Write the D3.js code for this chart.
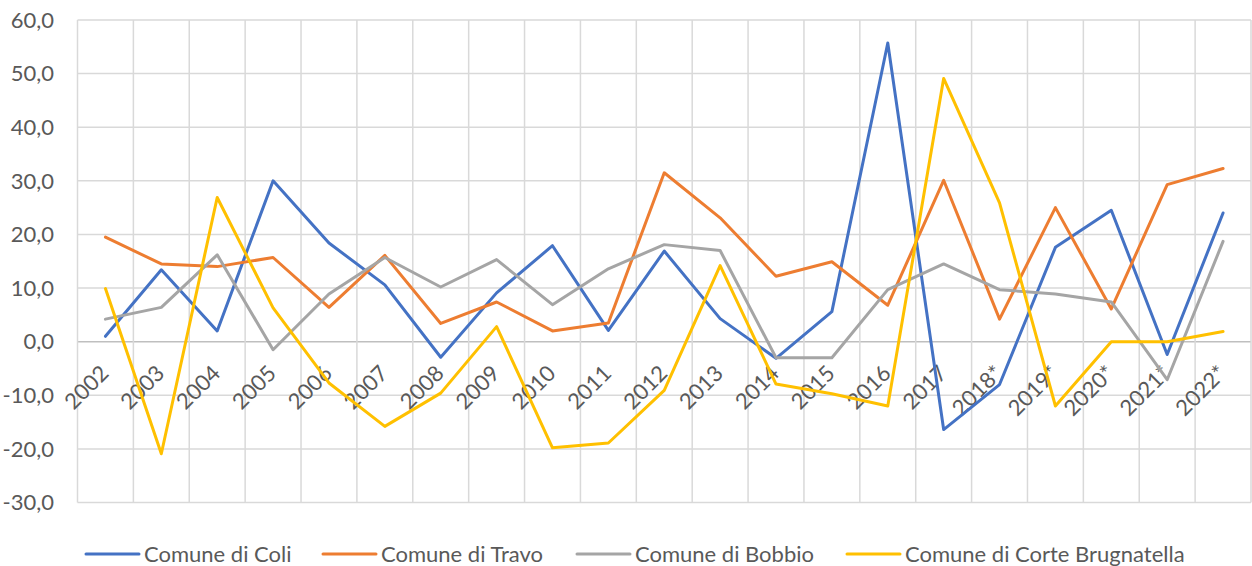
<!DOCTYPE html>
<html>
<head>
<meta charset="utf-8">
<script src="https://cdn.jsdelivr.net/npm/d3@7"></script>
<style>
  body { margin: 0; background: #fff; }
  text { font-family: Lato, "Open Sans", sans-serif; fill: #595959; }
</style>
</head>
<body>
<div id="chart"></div>
<script>
// data
const YEARS = ["2002", "2003", "2004", "2005", "2006", "2007", "2008", "2009", "2010", "2011",
  "2012", "2013", "2014", "2015", "2016", "2017", "2018*", "2019*", "2020*", "2021*", "2022*"];
const COLI = [1.0, 13.4, 2.0, 30.0, 18.4, 10.6, -2.9, 9.1, 17.9, 2.1, 16.9, 4.3, -3.1, 5.6, 55.7, -16.4, -8.0, 17.6, 24.5, -2.4, 24.0];
const TRAVO = [19.5, 14.5, 14.0, 15.7, 6.4, 16.1, 3.4, 7.4, 2.0, 3.5, 31.5, 23.1, 12.2, 14.9, 6.8, 30.1, 4.2, 25.0, 6.1, 29.3, 32.3];
const BOBBIO = [4.2, 6.4, 16.2, -1.5, 8.9, 15.7, 10.2, 15.3, 6.9, 13.6, 18.1, 17.0, -3.0, -3.0, 9.7, 14.5, 9.7, 8.9, 7.4, -7.1, 18.7];
const CORTE = [9.9, -20.9, 26.9, 6.3, -7.7, -15.8, -9.6, 2.8, -19.8, -18.9, -9.1, 14.2, -7.9, -9.7, -12.0, 49.1, 25.9, -12.0, 0.0, 0.0, 1.9];
const SERIES_NAMES = ["Comune di Coli", "Comune di Travo", "Comune di Bobbio", "Comune di Corte Brugnatella"];
const SERIES_COLORS = ["#4472C4", "#ED7D31", "#A5A5A5", "#FFC000"];
const Y_TICKS = [-30, -20, -10, 0, 10, 20, 30, 40, 50, 60];

const FRAME_WIDTH = 1252;
const FRAME_HEIGHT = 566;
const PLOT = {left: 77.5, right: 1251, top: 20, bottom: 502.5};
const FONT_SIZE = "22px";

const series = [COLI, TRAVO, BOBBIO, CORTE].map((vals, i) => ({
  name: SERIES_NAMES[i], color: SERIES_COLORS[i], values: vals
}));

const FRAME = d3.select("#chart")
  .append("svg")
  .attr("width", FRAME_WIDTH)
  .attr("height", FRAME_HEIGHT);

const X_SCALE = d3.scaleBand()
  .domain(YEARS)
  .range([PLOT.left, PLOT.right])
  .padding(0);

const Y_SCALE = d3.scaleLinear()
  .domain([-30, 60])
  .range([PLOT.bottom, PLOT.top]);

const fmt = (v) => d3.format(".1f")(v).replace(".", ",").replace("−", "-");

// horizontal gridlines
FRAME.append("g")
  .selectAll("line")
  .data(Y_TICKS)
  .enter()
  .append("line")
  .attr("x1", PLOT.left)
  .attr("x2", PLOT.right)
  .attr("y1", d => Y_SCALE(d))
  .attr("y2", d => Y_SCALE(d))
  .attr("stroke", d => d === 0 ? "#BFBFBF" : "#D9D9D9")
  .attr("stroke-width", 1.5);

// vertical gridlines at category boundaries
const bounds = YEARS.map(d => X_SCALE(d)).concat([X_SCALE(YEARS[YEARS.length - 1]) + X_SCALE.bandwidth()]);
FRAME.append("g")
  .selectAll("line")
  .data(bounds)
  .enter()
  .append("line")
  .attr("x1", d => d)
  .attr("x2", d => d)
  .attr("y1", PLOT.top)
  .attr("y2", PLOT.bottom)
  .attr("stroke", "#D9D9D9")
  .attr("stroke-width", 1.5);

// y axis labels
FRAME.append("g")
  .selectAll("text")
  .data(Y_TICKS)
  .enter()
  .append("text")
  .attr("x", 54)
  .attr("y", d => Y_SCALE(d))
  .attr("dy", "0.35em")
  .attr("text-anchor", "end")
  .attr("font-size", FONT_SIZE)
  .text(d => fmt(d));

// x axis labels, rotated
FRAME.append("g")
  .selectAll("text")
  .data(YEARS)
  .enter()
  .append("text")
  .attr("text-anchor", "end")
  .attr("font-size", FONT_SIZE)
  .attr("transform", d => "translate(" + (X_SCALE(d) + X_SCALE.bandwidth() / 2 + 4.5) + "," + (Y_SCALE(0) + 33) + ") rotate(-45)")
  .text(d => d);

// lines
const line = d3.line()
  .x((d, i) => X_SCALE(YEARS[i]) + X_SCALE.bandwidth() / 2)
  .y(d => Y_SCALE(d));

FRAME.append("g")
  .selectAll("path")
  .data(series)
  .enter()
  .append("path")
  .attr("d", d => line(d.values))
  .attr("fill", "none")
  .attr("stroke", d => d.color)
  .attr("stroke-width", 3)
  .attr("stroke-linejoin", "round")
  .attr("stroke-linecap", "round");

// legend
const LEGEND_X = [86, 323, 577, 847];
const legend = FRAME.append("g")
  .selectAll("g")
  .data(series)
  .enter()
  .append("g")
  .attr("transform", (d, i) => "translate(" + LEGEND_X[i] + ",554)");

legend.append("line")
  .attr("x1", 0)
  .attr("x2", 53)
  .attr("stroke", d => d.color)
  .attr("stroke-width", 3)
  .attr("stroke-linecap", "round");

legend.append("text")
  .attr("x", 58)
  .attr("dy", "0.35em")
  .attr("font-size", FONT_SIZE)
  .text(d => d.name);
</script>
</body>
</html>
